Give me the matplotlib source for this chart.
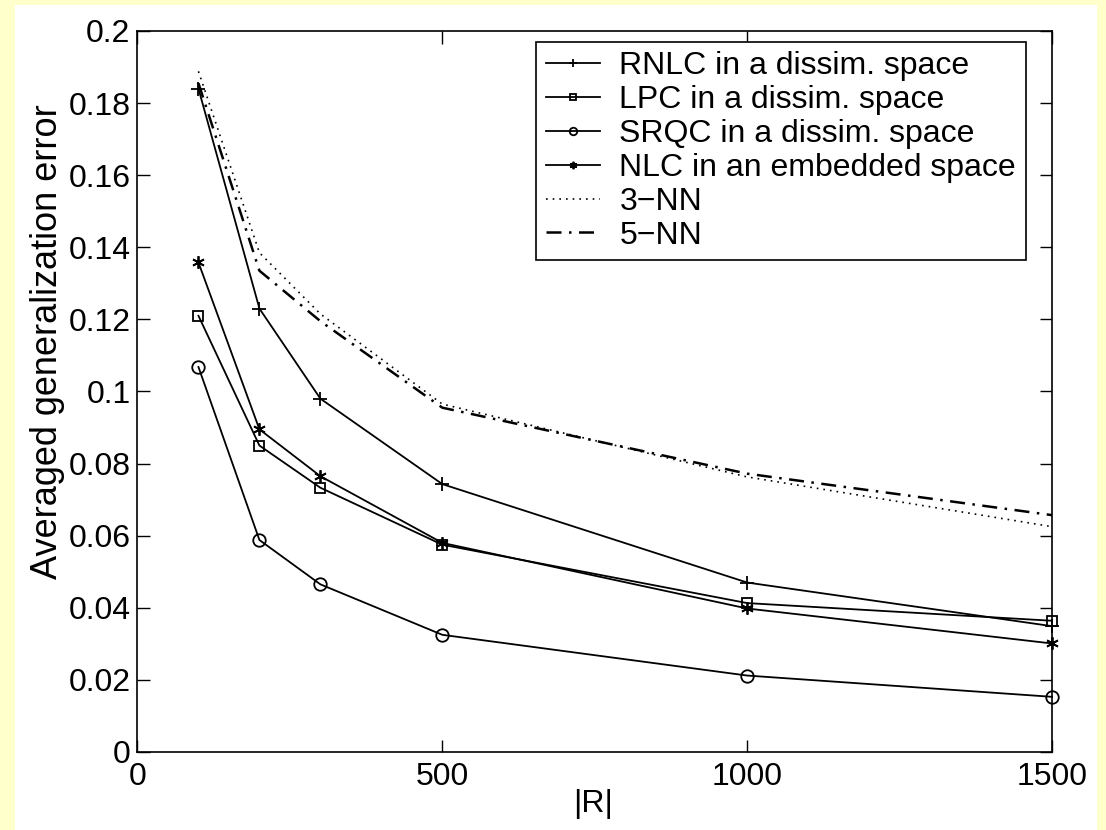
import numpy as np
import matplotlib
matplotlib.use('Agg')
import matplotlib.pyplot as plt
from matplotlib.patches import Rectangle

# -------------------------------------------------------------------------
# Data
# -------------------------------------------------------------------------
R_SIZES = [100, 200, 300, 500, 1000, 1500]

rnlc_err = [0.184, 0.123, 0.098, 0.0743, 0.047, 0.0349]
lpc_err = [0.121, 0.085, 0.0733, 0.0575, 0.0413, 0.0364]
srqc_err = [0.1068, 0.0588, 0.0465, 0.0325, 0.0212, 0.0153]
nlc_err = [0.1358, 0.0895, 0.0765, 0.058, 0.0398, 0.0301]
nn3_err = [0.1888, 0.1385, 0.1215, 0.0965, 0.0763, 0.0625]
nn5_err = [0.1855, 0.1335, 0.1195, 0.0955, 0.0772, 0.0657]

labels = ['RNLC in a dissim. space', 'LPC in a dissim. space',
          'SRQC in a dissim. space', 'NLC in an embedded space',
          '3\u2212NN', '5\u2212NN']

# -------------------------------------------------------------------------
# Figure
# -------------------------------------------------------------------------
plt.rcParams['font.family'] = ['Liberation Sans', 'DejaVu Sans']
FS = 23

fig = plt.figure(figsize=(11.06, 8.30), dpi=100, facecolor='#FFFFCC')
# white MATLAB figure area on the yellow slide background
fig.patches.append(Rectangle((15 / 1106, 0), 1082 / 1106, 825 / 830,
                             transform=fig.transFigure, facecolor='white',
                             edgecolor='none', zorder=-10))

ax = fig.add_axes([0.1243, 0.0940, 0.8269, 0.8687])

lw = 1.3
common = dict(color='k', clip_on=False)
ax.plot(R_SIZES, rnlc_err, lw=lw, marker='+', ms=10, mew=1.3, label=labels[0], **common)
ax.plot(R_SIZES, lpc_err, lw=lw, marker='s', ms=7.5, mfc='none', mew=1.3, label=labels[1], **common)
ax.plot(R_SIZES, srqc_err, lw=lw, marker='o', ms=9, mfc='none', mew=1.3, label=labels[2], **common)
ax.plot(R_SIZES, nlc_err, lw=lw, marker=(6, 2, 0), ms=9, mew=1.3, label=labels[3], **common)
ax.plot(R_SIZES, nn3_err, lw=1.2, linestyle=(0, (1, 3)), label=labels[4], **common)
ax.plot(R_SIZES, nn5_err, lw=1.8, linestyle=(0, (6, 3, 1, 3)), label=labels[5], **common)

ax.set_xlim(0, 1500)
ax.set_ylim(0, 0.2)
ax.set_xticks([0, 500, 1000, 1500])
ax.set_yticks(np.arange(0, 0.201, 0.02))
ax.set_yticklabels(['0', '0.02', '0.04', '0.06', '0.08', '0.1', '0.12',
                    '0.14', '0.16', '0.18', '0.2'])
ax.tick_params(direction='in', length=9, width=1, top=True, right=True,
               labelsize=FS)
ax.tick_params(axis='x', pad=7)
ax.tick_params(axis='y', pad=5)
for s in ax.spines.values():
    s.set_linewidth(1.2)

ax.set_xlabel('|R|', fontsize=FS)
ax.set_ylabel('Averaged generalization error', fontsize=26)
ax.xaxis.set_label_coords(0.498, -0.051)
ax.yaxis.set_label_coords(-0.079, 0.569)

leg = ax.legend(loc='upper right', bbox_to_anchor=(0.9712, 0.985),
                borderaxespad=0, fontsize=FS, fancybox=False, framealpha=1,
                edgecolor='k', markerscale=0.6, handlelength=1.7,
                handletextpad=0.6, labelspacing=0.12, borderpad=0.3)
leg.get_frame().set_linewidth(1.2)

fig.savefig('out.png', dpi=100, facecolor=fig.get_facecolor())
